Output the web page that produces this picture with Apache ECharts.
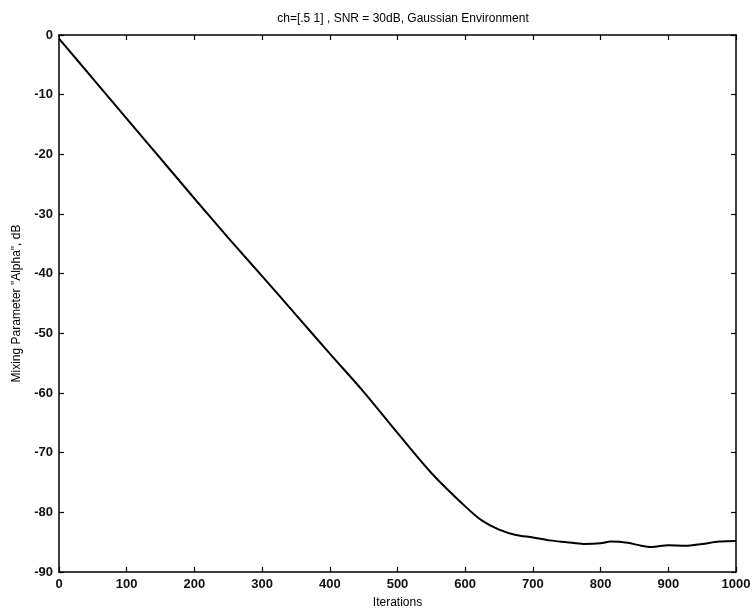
<!DOCTYPE html>
<html>
<head>
<meta charset="utf-8">
<script src="https://cdn.jsdelivr.net/npm/echarts@6/dist/echarts.min.js"></script>
<style>
  html, body { margin: 0; padding: 0; background: #fff; }
  #chart { width: 754px; height: 614px; }
</style>
</head>
<body>
<div id="chart"></div>
<script>
// Mixing parameter alpha (dB) versus iteration count
const iterations = [0, 50, 100, 150, 200, 250, 300, 350, 400, 450, 500, 550, 600, 625, 650, 675, 700, 725, 750, 775, 800, 815, 840, 860, 875, 900, 925, 950, 975, 1000];
const alphaDb = [-0.6, -7.3, -14.0, -20.7, -27.4, -34.0, -40.4, -46.9, -53.4, -59.8, -66.7, -73.4, -79.0, -81.4, -82.9, -83.8, -84.2, -84.7, -85.0, -85.3, -85.2, -84.9, -85.1, -85.6, -85.8, -85.5, -85.6, -85.3, -84.9, -84.8];

const titleText = 'ch=[.5 1] , SNR = 30dB, Gaussian Environment';
const xName = 'Iterations';
const yName = 'Mixing Parameter "Alpha", dB';

const FONT = '"Liberation Sans", Arial, sans-serif';
const ink = '#000';

const chart = echarts.init(document.getElementById('chart'), null, { renderer: 'canvas' });

function boxLine() {
  return { show: true, onZero: false, lineStyle: { color: ink, width: 1.5 } };
}
function innerTick() {
  return { show: true, inside: true, length: 5, lineStyle: { color: ink, width: 1.2 } };
}
const tickLabel = {
  fontFamily: FONT, fontSize: 13, fontWeight: 'bold', color: '#111', margin: 6,
  formatter: (v) => String(v)
};

chart.setOption({
  animation: false,
  backgroundColor: '#fff',
  title: {
    text: titleText,
    left: 398, top: 8, textAlign: 'center',
    textStyle: { fontFamily: FONT, fontSize: 12, fontWeight: 'normal', color: ink }
  },
  grid: { left: 59, right: 18, top: 35, bottom: 40 },
  xAxis: [
    {
      type: 'value', min: 0, max: 1000, interval: 100, position: 'bottom',
      name: xName, nameLocation: 'middle', nameGap: 25,
      nameTextStyle: { fontFamily: FONT, fontSize: 12, color: ink },
      axisLine: boxLine(), axisTick: innerTick(),
      axisLabel: tickLabel,
      splitLine: { show: false }
    },
    {
      type: 'value', min: 0, max: 1000, interval: 100, position: 'top',
      axisLine: boxLine(), axisTick: innerTick(),
      axisLabel: { show: false }, splitLine: { show: false }
    }
  ],
  yAxis: [
    {
      type: 'value', min: -90, max: 0, interval: 10, position: 'left',
      name: yName, nameLocation: 'middle', nameGap: 36, nameRotate: 90,
      nameTextStyle: { fontFamily: FONT, fontSize: 12, color: ink },
      axisLine: boxLine(), axisTick: innerTick(),
      axisLabel: tickLabel,
      splitLine: { show: false }
    },
    {
      type: 'value', min: -90, max: 0, interval: 10, position: 'right',
      axisLine: boxLine(), axisTick: innerTick(),
      axisLabel: { show: false }, splitLine: { show: false }
    }
  ],
  series: [{
    type: 'line',
    xAxisIndex: 0, yAxisIndex: 0,
    data: iterations.map((it, i) => [it, alphaDb[i]]),
    showSymbol: false,
    smooth: 0.3,
    lineStyle: { color: ink, width: 2 }
  }]
});
</script>
</body>
</html>
